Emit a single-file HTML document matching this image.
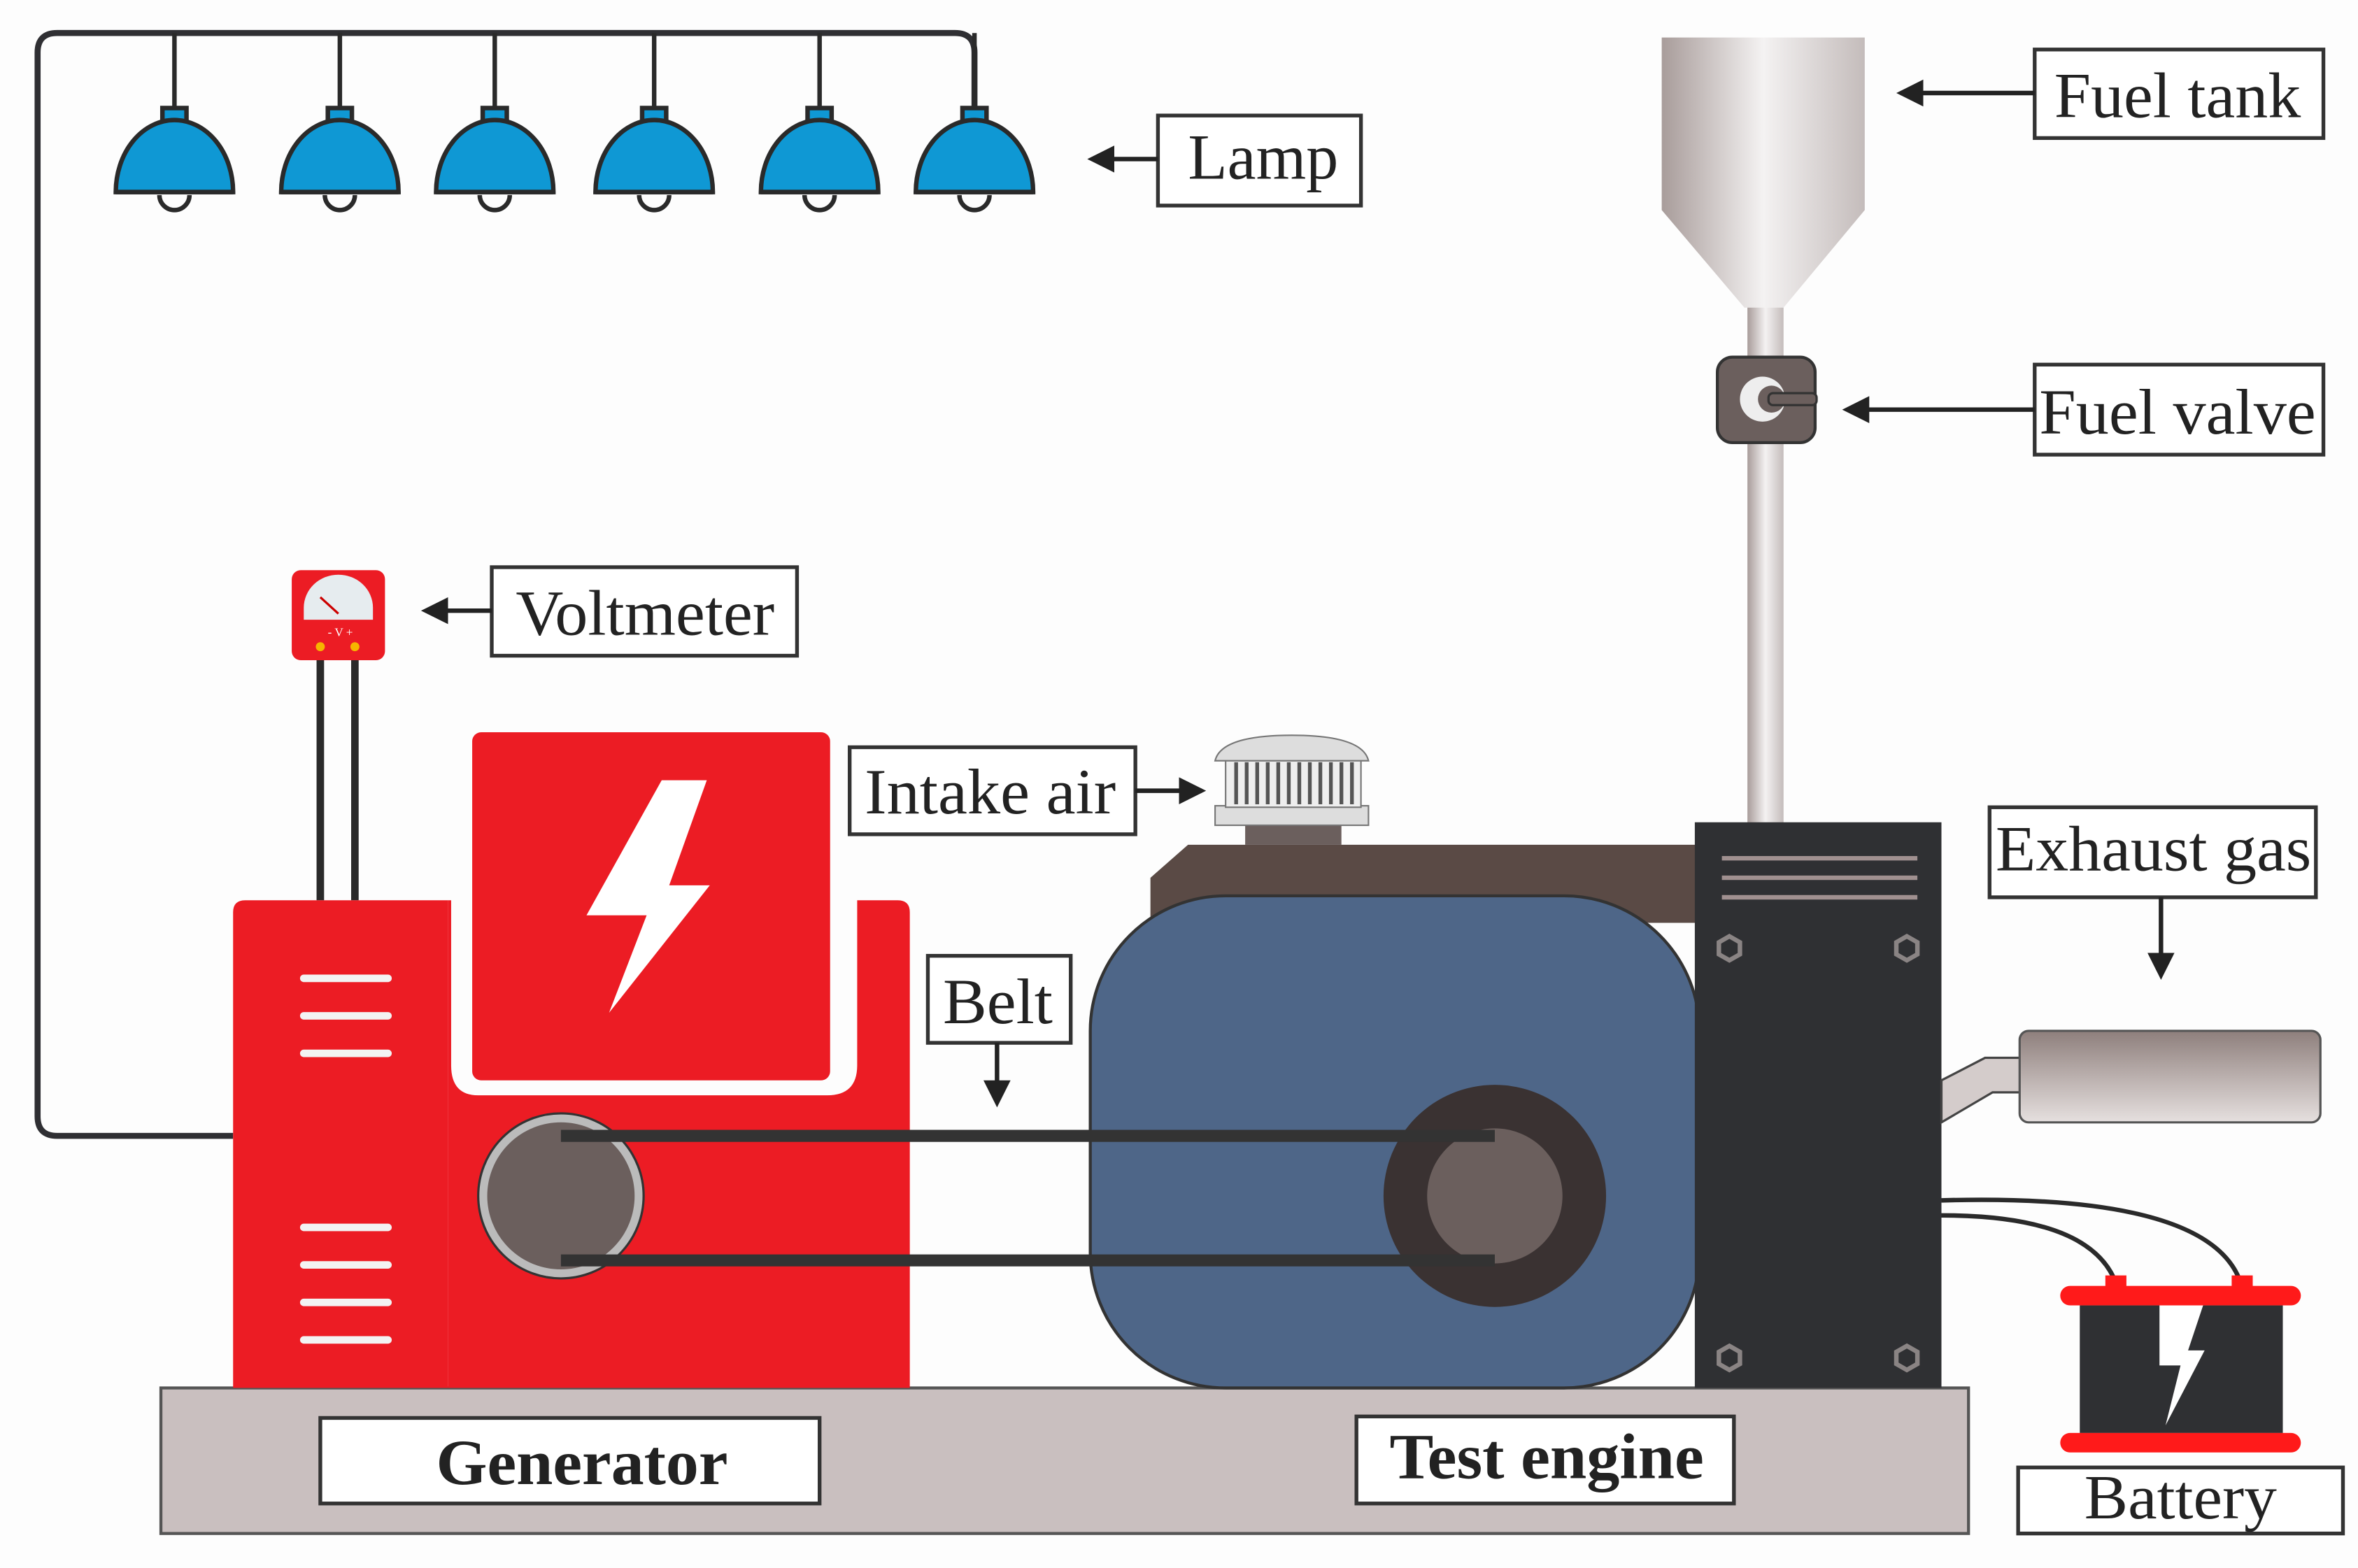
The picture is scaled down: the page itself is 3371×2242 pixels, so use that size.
<!DOCTYPE html>
<html><head><meta charset="utf-8"><style>
html,body{margin:0;padding:0;background:#fdfdfd;}
svg{display:block;}
text{font-family:"Liberation Serif",serif;fill:#222;}
</style></head><body>
<svg width="3371" height="2242" viewBox="0 0 1568 1045" preserveAspectRatio="none" xmlns="http://www.w3.org/2000/svg">
<defs>
<linearGradient id="tank" x1="0" x2="1"><stop offset="0" stop-color="#a89c9a"/><stop offset="0.5" stop-color="#f4f2f2"/><stop offset="1" stop-color="#c4bcbb"/></linearGradient>
<linearGradient id="muf" x1="0" y1="0" x2="0" y2="1"><stop offset="0" stop-color="#8e7f7c"/><stop offset="1" stop-color="#e6e0df"/></linearGradient>
<marker id="ah" markerWidth="6" markerHeight="6" refX="5" refY="3" orient="auto" markerUnits="strokeWidth"><path d="M0,0 L6,3 L0,6 z" fill="#222"/></marker>
</defs>
<rect width="1568" height="1045" fill="#fdfdfd"/>
<path d="M155,757 L38,757 Q25,757 25,744 L25,35 Q25,22 38,22 L635,22 Q648,22 648,35 L648,75" fill="none" stroke="#2f2f33" stroke-width="4"/>
<g fill="#0f98d4" stroke="#2a2a2a" stroke-width="3">
<g id="lamp"><line x1="116" y1="22" x2="116" y2="75"/><path d="M108,80 L108,72 L124,72 L124,80"/><path d="M77,128 A39,48 0 0 1 155,128 Z"/><path d="M106,130 A10,10 0 0 0 126,130" fill="none"/><line x1="77" y1="128" x2="155" y2="128"/></g>
<use href="#lamp" x="110"/><use href="#lamp" x="213"/><use href="#lamp" x="319"/><use href="#lamp" x="429"/><use href="#lamp" x="532"/>
</g>
<g fill="#fff" stroke="#333" stroke-width="2.5">
<rect x="770" y="77" width="135" height="60"/>
<rect x="327" y="378" width="203" height="59"/>
<rect x="1353" y="33" width="192" height="59"/>
<rect x="1353" y="243" width="192" height="60"/>
<rect x="565" y="498" width="190" height="58"/>
<rect x="617" y="637" width="95" height="58"/>
<rect x="1323" y="538" width="217" height="60"/>
</g>
<g stroke="#222" stroke-width="3" marker-end="url(#ah)">
<line x1="770" y1="106" x2="726" y2="106"/>
<line x1="327" y1="407" x2="283" y2="407"/>
<line x1="1353" y1="62" x2="1264" y2="62"/>
<line x1="1353" y1="273" x2="1228" y2="273"/>
<line x1="755" y1="527" x2="799" y2="527"/>
<line x1="663" y1="695" x2="663" y2="735"/>
<line x1="1437" y1="598" x2="1437" y2="650"/>
</g>
<g font-size="43">
<text x="790" y="119" textLength="100" lengthAdjust="spacingAndGlyphs">Lamp</text>
<text x="343" y="423" textLength="172" lengthAdjust="spacingAndGlyphs">Voltmeter</text>
<text x="1366" y="78" textLength="164" lengthAdjust="spacingAndGlyphs">Fuel tank</text>
<text x="1356" y="289" textLength="184" lengthAdjust="spacingAndGlyphs">Fuel valve</text>
<text x="575" y="542" textLength="167" lengthAdjust="spacingAndGlyphs">Intake air</text>
<text x="627" y="682" textLength="73" lengthAdjust="spacingAndGlyphs">Belt</text>
<text x="1327" y="580" textLength="210" lengthAdjust="spacingAndGlyphs">Exhaust gas</text>
</g>
<line x1="213" y1="430" x2="213" y2="600" stroke="#2a2a2a" stroke-width="5"/>
<line x1="236" y1="430" x2="236" y2="600" stroke="#2a2a2a" stroke-width="5"/>
<rect x="194" y="380" width="62" height="60" rx="6" fill="#ec1c24"/>
<path d="M202,413 L202,405 A23,22 0 0 1 248,405 L248,413 Z" fill="#e6ecef"/>
<line x1="213" y1="398" x2="225" y2="409" stroke="#c00" stroke-width="1.5"/>
<text x="218" y="424" font-size="8" style="fill:#fff">- V +</text>
<circle cx="213" cy="431" r="3" fill="#f6b400"/><circle cx="236" cy="431" r="3" fill="#f6b400"/>
<rect x="107" y="925" width="1202" height="97" fill="#c9bfbf" stroke="#555" stroke-width="2"/>
<g fill="#fff" stroke="#333" stroke-width="2.5"><rect x="213" y="945" width="332" height="57"/><rect x="902" y="944" width="251" height="58"/></g>
<text x="290" y="989" font-size="43" font-weight="bold" textLength="194" lengthAdjust="spacingAndGlyphs">Generator</text>
<text x="924" y="985" font-size="43" font-weight="bold" textLength="209" lengthAdjust="spacingAndGlyphs">Test engine</text>
<path d="M163,600 L298,600 L298,925 L155,925 L155,608 Q155,600 163,600 Z" fill="#ec1c24"/>
<path d="M298,600 L298,925 L605,925 L605,608 Q605,600 597,600 L570,600 L570,710 Q570,730 550,730 L318,730 Q300,730 300,710 L300,600 Z" fill="#ec1c24"/>
<rect x="314" y="488" width="238" height="232" rx="6" fill="#ec1c24"/>
<path d="M440,520 L470,520 L445,590 L472,590 L405,675 L430,610 L390,610 Z" fill="#fff"/>
<g stroke="#f3f3f3" stroke-width="5" stroke-linecap="round">
<line x1="202" y1="652" x2="258" y2="652"/><line x1="202" y1="677" x2="258" y2="677"/><line x1="202" y1="702" x2="258" y2="702"/>
<line x1="202" y1="818" x2="258" y2="818"/><line x1="202" y1="843" x2="258" y2="843"/><line x1="202" y1="868" x2="258" y2="868"/><line x1="202" y1="893" x2="258" y2="893"/>
</g>
<path d="M1105,25 L1240,25 L1240,140 L1186,205 L1160,205 L1105,140 Z" fill="url(#tank)"/>
<rect x="1162" y="205" width="24" height="345" fill="url(#tank)"/>
<rect x="1142" y="238" width="65" height="57" rx="10" fill="#6b5f5d" stroke="#333" stroke-width="2"/>
<circle cx="1172" cy="266" r="15" fill="#eee"/><circle cx="1178" cy="266" r="9" fill="#6b5f5d"/>
<rect x="1176" y="262" width="32" height="8" rx="3" fill="#6b5f5d" stroke="#333" stroke-width="1.5"/>
<rect x="828" y="548" width="64" height="15" fill="#6b5f5d"/>
<rect x="808" y="537" width="102" height="13" fill="#ddd" stroke="#777"/>
<rect x="815" y="506" width="90" height="32" fill="#eee" stroke="#777"/>
<g stroke="#555" stroke-width="2.5"><path d="M822,508V536M829,508V536M836,508V536M843,508V536M850,508V536M857,508V536M864,508V536M871,508V536M878,508V536M885,508V536M892,508V536M899,508V536"/></g>
<path d="M808,507 Q812,490 859,490 Q906,490 910,507 Z" fill="#ddd" stroke="#777"/>
<path d="M765,585 L790,563 L1130,563 L1130,615 L765,615 Z" fill="#5a4a45"/>
<rect x="725" y="597" width="405" height="328" rx="90" fill="#4e6688" stroke="#333" stroke-width="2"/>
<rect x="1127" y="548" width="164" height="377" fill="#2f3033"/>
<g stroke="#a09090" stroke-width="3"><line x1="1145" y1="572" x2="1275" y2="572"/><line x1="1145" y1="585" x2="1275" y2="585"/><line x1="1145" y1="598" x2="1275" y2="598"/></g>
<g fill="none" stroke="#8a8484" stroke-width="3">
<polygon points="1150,624 1157,628 1157,636 1150,640 1143,636 1143,628"/>
<polygon points="1268,624 1275,628 1275,636 1268,640 1261,636 1261,628"/>
<polygon points="1150,897 1157,901 1157,909 1150,913 1143,909 1143,901"/>
<polygon points="1268,897 1275,901 1275,909 1268,913 1261,909 1261,901"/>
</g>
<circle cx="994" cy="797" r="74" fill="#3a3232"/>
<circle cx="994" cy="797" r="45" fill="#6b5f5d"/>
<circle cx="373" cy="797" r="52" fill="#6b5f5d" stroke="#bbb" stroke-width="6"/>
<circle cx="373" cy="797" r="55" fill="none" stroke="#333" stroke-width="1.5"/>
<line x1="373" y1="757" x2="994" y2="757" stroke="#333" stroke-width="8"/>
<line x1="373" y1="840" x2="994" y2="840" stroke="#333" stroke-width="8"/>
<path d="M1291,720 L1320,705 L1345,705 L1345,728 L1325,728 L1291,748 Z" fill="#d4cccb" stroke="#444" stroke-width="1.5"/>
<rect x="1343" y="687" width="200" height="61" rx="6" fill="url(#muf)" stroke="#555" stroke-width="1.5"/>
<path d="M1291,800 Q1470,795 1490,855" fill="none" stroke="#2a2a2a" stroke-width="3"/>
<path d="M1291,810 Q1390,810 1407,855" fill="none" stroke="#2a2a2a" stroke-width="3"/>
<rect x="1400" y="850" width="14" height="10" fill="#ff1a1a"/><rect x="1484" y="850" width="14" height="10" fill="#ff1a1a"/>
<rect x="1370" y="857" width="160" height="13" rx="6.5" fill="#ff1a1a"/>
<rect x="1383" y="870" width="135" height="85" fill="#2f3033"/>
<rect x="1370" y="955" width="160" height="13" rx="6.5" fill="#ff1a1a"/>
<path d="M1436,870 L1465,870 L1455,900 L1466,900 L1440,950 L1450,910 L1436,910 Z" fill="#fff"/>
<rect x="1342" y="978" width="216" height="44" fill="#fff" stroke="#333" stroke-width="2.5"/>
<text x="1386" y="1012" font-size="42" textLength="128" lengthAdjust="spacingAndGlyphs">Battery</text>
</svg>
</body></html>
